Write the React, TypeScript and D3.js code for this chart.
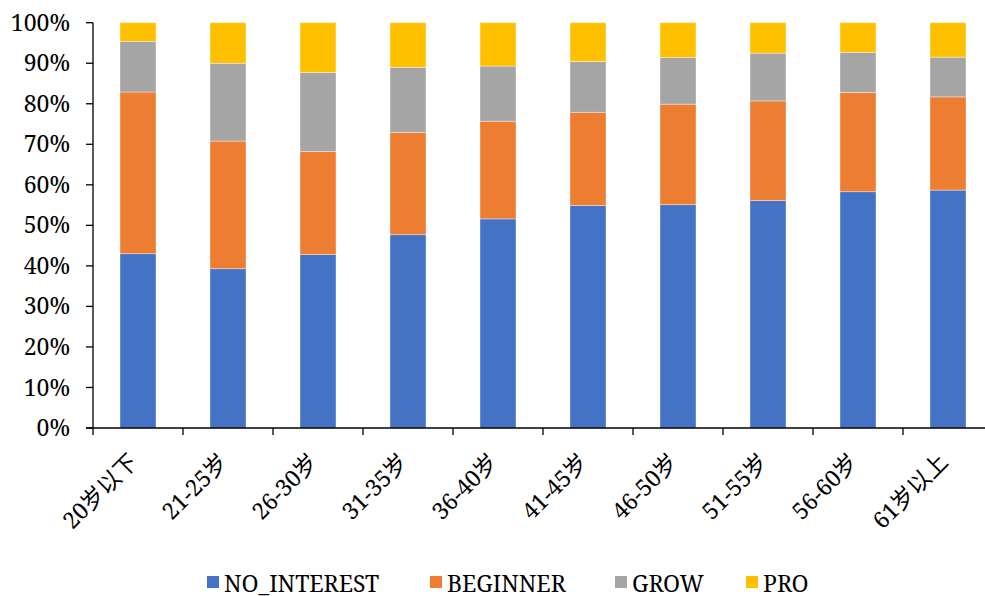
import React from 'react'
import * as d3 from 'd3'

const categories = ['20岁以下', '21-25岁', '26-30岁', '31-35岁', '36-40岁', '41-45岁', '46-50岁', '51-55岁', '56-60岁', '61岁以上']
const noInterest = [43.0, 39.3, 42.8, 47.7, 51.6, 54.9, 55.1, 56.1, 58.3, 58.7]
const beginner = [39.9, 31.5, 25.4, 25.2, 24.1, 23.0, 24.8, 24.6, 24.5, 23.0]
const grow = [12.5, 19.2, 19.5, 16.1, 13.6, 12.5, 11.5, 11.8, 9.9, 9.8]
const pro = [4.6, 10.0, 12.3, 11.0, 10.7, 9.6, 8.6, 7.5, 7.3, 8.5]
const seriesNames = ['NO_INTEREST', 'BEGINNER', 'GROW', 'PRO']
const colors = ['#4472C4', '#ED7D31', '#A5A5A5', '#FFC000']
const yTicks = [0, 10, 20, 30, 40, 50, 60, 70, 80, 90, 100]

const W = 985, H = 596
// Liberation Serif came out sans at large sizes, so use Noto Serif a bit smaller
const FONT = "'Noto Serif', 'Liberation Serif', 'Noto Sans CJK SC', serif"
const left = 93, right = 993, top = 22.7, bottom = 428

function App() {
  const x = d3.scaleBand<string>()
    .domain(categories)
    .range([left, right])
    .paddingInner(0.6)
    .paddingOuter(0.3)
  const y = d3.scaleLinear().domain([0, 100]).range([bottom, top])

  const rows = categories.map((c, i) => ({
    cat: c,
    NO_INTEREST: noInterest[i],
    BEGINNER: beginner[i],
    GROW: grow[i],
    PRO: pro[i],
  }))
  const stacked = d3.stack<any>().keys(seriesNames)(rows)
  const step = x.step()
  const legendX = [207, 430, 615, 746]
  const txt = { fontFamily: FONT, fontSize: 23, fill: '#000' }

  return (
    <svg width={W} height={H}
      style={{ position: 'absolute', left: 0, top: 0, background: '#fff' }}>
      {stacked.map((layer, si) => (
        <g key={si}>
          {layer.map((d: any) => (
            <rect key={d.data.cat}
              x={x(d.data.cat)} width={x.bandwidth()}
              y={y(Math.min(d[1], 100))}
              height={y(d[0]) - y(Math.min(d[1], 100))}
              fill={colors[si]} stroke="#fff" strokeOpacity={0.5} strokeWidth={0.75} />
          ))}
        </g>
      ))}

      {/* y axis */}
      <line x1={left} x2={left} y1={y(100)} y2={bottom} stroke="#000" strokeWidth={1.3} />
      {yTicks.map(t => (
        <g key={t}>
          <line x1={left - 7} x2={left} y1={y(t)} y2={y(t)} stroke="#000" strokeWidth={1.3} />
          <text x={70} y={y(t)} dy="0.35em" textAnchor="end" style={txt}>{t + '%'}</text>
        </g>
      ))}

      {/* x axis */}
      <line x1={left - 7} x2={right} y1={bottom} y2={bottom} stroke="#000" strokeWidth={1.3} />
      {d3.range(categories.length + 1).map(i => (
        <line key={i} x1={left + i * step} x2={left + i * step} y1={bottom} y2={bottom + 7}
          stroke="#000" strokeWidth={1.3} />
      ))}
      {categories.map(c => {
        const cx = (x(c) as number) + x.bandwidth() / 2
        return (
          <text key={c}
            transform={'translate(' + (cx - 10) + ',' + (bottom + 24) + ') rotate(-45)'}
            textAnchor="end" dy="0.7em" style={txt}>{c}</text>
        )
      })}

      {/* legend */}
      {seriesNames.map((s, i) => (
        <g key={s}>
          <rect x={legendX[i]} y={576} width={12} height={12} fill={colors[i]} />
          <text x={legendX[i] + 17} y={591.5} style={txt}>{s}</text>
        </g>
      ))}
    </svg>
  )
}

export default App
